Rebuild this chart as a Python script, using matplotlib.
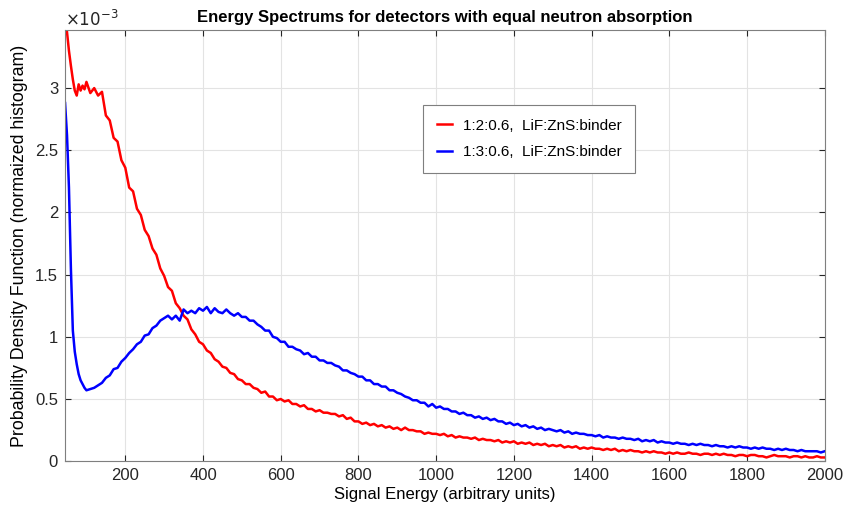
import matplotlib
matplotlib.use("Agg")
import matplotlib.pyplot as plt
import numpy as np

plt.rcParams['font.family'] = ['Liberation Sans', 'DejaVu Sans']

# energy bins (arbitrary units): fine near the origin, coarser afterwards
energy = np.concatenate([np.arange(45, 100, 5), np.arange(100, 2001, 10)])

# PDF values in units of 1e-3
pdf_red = [
    3.60, 3.45, 3.30, 3.18, 3.07, 2.98, 2.94, 3.03, 2.98, 3.02, 2.99,   # 45-95
    3.05, 2.96, 3.00, 2.94, 2.97, 2.78, 2.74, 2.60, 2.57, 2.42,          # 100-190
    2.36, 2.20, 2.17, 2.03, 1.98, 1.86, 1.81, 1.71, 1.66, 1.55,          # 200-290
    1.49, 1.40, 1.37, 1.27, 1.23, 1.17, 1.14, 1.06, 1.02, 0.96,          # 300-390
    0.94, 0.89, 0.87, 0.82, 0.80, 0.76, 0.75, 0.71, 0.70, 0.66,          # 400-490
    0.65, 0.62, 0.62, 0.59, 0.58, 0.55, 0.56, 0.52, 0.52, 0.49,          # 500-590
    0.50, 0.48, 0.49, 0.46, 0.46, 0.44, 0.45, 0.42, 0.42, 0.40,          # 600-690
    0.41, 0.39, 0.39, 0.38, 0.38, 0.36, 0.37, 0.34, 0.35, 0.32,          # 700-790
    0.32, 0.30, 0.31, 0.29, 0.30, 0.28, 0.29, 0.27, 0.28, 0.26,          # 800-890
    0.27, 0.25, 0.27, 0.25, 0.25, 0.24, 0.24, 0.22, 0.23, 0.22,          # 900-990
    0.22, 0.21, 0.22, 0.20, 0.21, 0.19, 0.20, 0.19, 0.19, 0.18,          # 1000-1090
    0.19, 0.17, 0.18, 0.17, 0.17, 0.16, 0.17, 0.15, 0.16, 0.15,          # 1100-1190
    0.16, 0.14, 0.15, 0.14, 0.15, 0.13, 0.14, 0.13, 0.14, 0.12,          # 1200-1290
    0.13, 0.12, 0.13, 0.11, 0.12, 0.11, 0.12, 0.10, 0.11, 0.10,          # 1300-1390
    0.11, 0.10, 0.10, 0.09, 0.10, 0.09, 0.10, 0.08, 0.09, 0.08,          # 1400-1490
    0.09, 0.08, 0.08, 0.07, 0.08, 0.07, 0.08, 0.07, 0.07, 0.06,          # 1500-1590
    0.07, 0.06, 0.07, 0.06, 0.06, 0.07, 0.06, 0.06, 0.05, 0.06,          # 1600-1690
    0.06, 0.05, 0.06, 0.05, 0.06, 0.05, 0.05, 0.04, 0.05, 0.05,          # 1700-1790
    0.04, 0.05, 0.05, 0.04, 0.04, 0.03, 0.04, 0.05, 0.04, 0.04,          # 1800-1890
    0.04, 0.03, 0.04, 0.04, 0.03, 0.04, 0.03, 0.03, 0.04, 0.03,          # 1900-1990
    0.03,                                                                # 2000
]

pdf_blue = [
    2.88, 2.62, 2.20, 1.55, 1.05, 0.88, 0.78, 0.70, 0.65, 0.62, 0.59,   # 45-95
    0.57, 0.58, 0.59, 0.61, 0.63, 0.67, 0.69, 0.74, 0.75, 0.80,          # 100-190
    0.83, 0.87, 0.90, 0.94, 0.96, 1.01, 1.02, 1.07, 1.09, 1.13,          # 200-290
    1.15, 1.17, 1.14, 1.17, 1.13, 1.22, 1.19, 1.21, 1.19, 1.23,          # 300-390
    1.21, 1.24, 1.19, 1.23, 1.20, 1.19, 1.22, 1.19, 1.17, 1.19,          # 400-490
    1.16, 1.16, 1.13, 1.13, 1.10, 1.08, 1.05, 1.05, 1.00, 0.99,          # 500-590
    0.96, 0.96, 0.92, 0.92, 0.90, 0.89, 0.86, 0.87, 0.84, 0.84,          # 600-690
    0.81, 0.81, 0.79, 0.79, 0.77, 0.76, 0.73, 0.73, 0.71, 0.70,          # 700-790
    0.68, 0.68, 0.65, 0.65, 0.62, 0.62, 0.60, 0.60, 0.57, 0.57,          # 800-890
    0.55, 0.54, 0.52, 0.51, 0.49, 0.49, 0.47, 0.47, 0.44, 0.46,          # 900-990
    0.43, 0.44, 0.42, 0.42, 0.40, 0.40, 0.38, 0.39, 0.37, 0.37,          # 1000-1090
    0.35, 0.36, 0.34, 0.35, 0.33, 0.34, 0.32, 0.32, 0.30, 0.31,          # 1100-1190
    0.29, 0.30, 0.28, 0.29, 0.27, 0.28, 0.26, 0.27, 0.25, 0.26,          # 1200-1290
    0.25, 0.24, 0.25, 0.23, 0.24, 0.22, 0.23, 0.22, 0.22, 0.21,          # 1300-1390
    0.21, 0.20, 0.21, 0.19, 0.20, 0.19, 0.19, 0.18, 0.19, 0.18,          # 1400-1490
    0.18, 0.17, 0.18, 0.16, 0.17, 0.16, 0.17, 0.15, 0.16, 0.15,          # 1500-1590
    0.15, 0.14, 0.15, 0.14, 0.14, 0.13, 0.14, 0.13, 0.14, 0.13,          # 1600-1690
    0.13, 0.12, 0.13, 0.12, 0.12, 0.11, 0.12, 0.11, 0.12, 0.11,          # 1700-1790
    0.11, 0.10, 0.11, 0.10, 0.11, 0.10, 0.10, 0.09, 0.10, 0.09,          # 1800-1890
    0.10, 0.09, 0.09, 0.08, 0.09, 0.08, 0.08, 0.08, 0.08, 0.07,          # 1900-1990
    0.08,                                                                # 2000
]

labels = ['1:2:0.6,  LiF:ZnS:binder', '1:3:0.6,  LiF:ZnS:binder']

fig = plt.figure(figsize=(8.45, 5.13), dpi=100)
ax = fig.add_axes([0.077, 0.101, 0.899, 0.8405])

ax.plot(energy, pdf_red, color='#ff0000', lw=1.8, label=labels[0])
ax.plot(energy, pdf_blue, color='#0000ff', lw=1.8, label=labels[1])

ax.set_xlim(45, 2000)
ax.set_ylim(0, 3.467)
ax.set_xticks(np.arange(200, 2001, 200))
ax.set_yticks([0, 0.5, 1, 1.5, 2, 2.5, 3])
ax.set_yticklabels(['0', '0.5', '1', '1.5', '2', '2.5', '3'])
ax.grid(True, color='#e3e3e3', lw=0.8)
ax.set_axisbelow(True)
ax.tick_params(direction='in', length=4, width=0.8, labelsize=12,
               top=True, right=True, colors='#262626', pad=5)
for s in ax.spines.values():
    s.set_color('#7f7f7f')
    s.set_linewidth(0.8)

ax.text(0.0, 1.003, r'$\times10^{-3}$', transform=ax.transAxes,
        fontsize=12, ha='left', va='bottom', color='#262626')

ax.set_title('Energy Spectrums for detectors with equal neutron absorption',
             fontsize=12, fontweight='bold', pad=6)
ax.set_xlabel('Signal Energy (arbitrary units)', fontsize=12, labelpad=3)
ax.set_ylabel('Probability Density Function (normaized histogram)', fontsize=12.8, labelpad=5)

leg = ax.legend(loc='upper left', bbox_to_anchor=(0.471, 0.826), fontsize=11,
                handlelength=1.0, handletextpad=0.7, borderpad=0.9,
                labelspacing=0.8, borderaxespad=0, fancybox=False,
                edgecolor='#7f7f7f', framealpha=1)
leg.get_frame().set_linewidth(0.8)

fig.savefig('out.png', dpi=100)
